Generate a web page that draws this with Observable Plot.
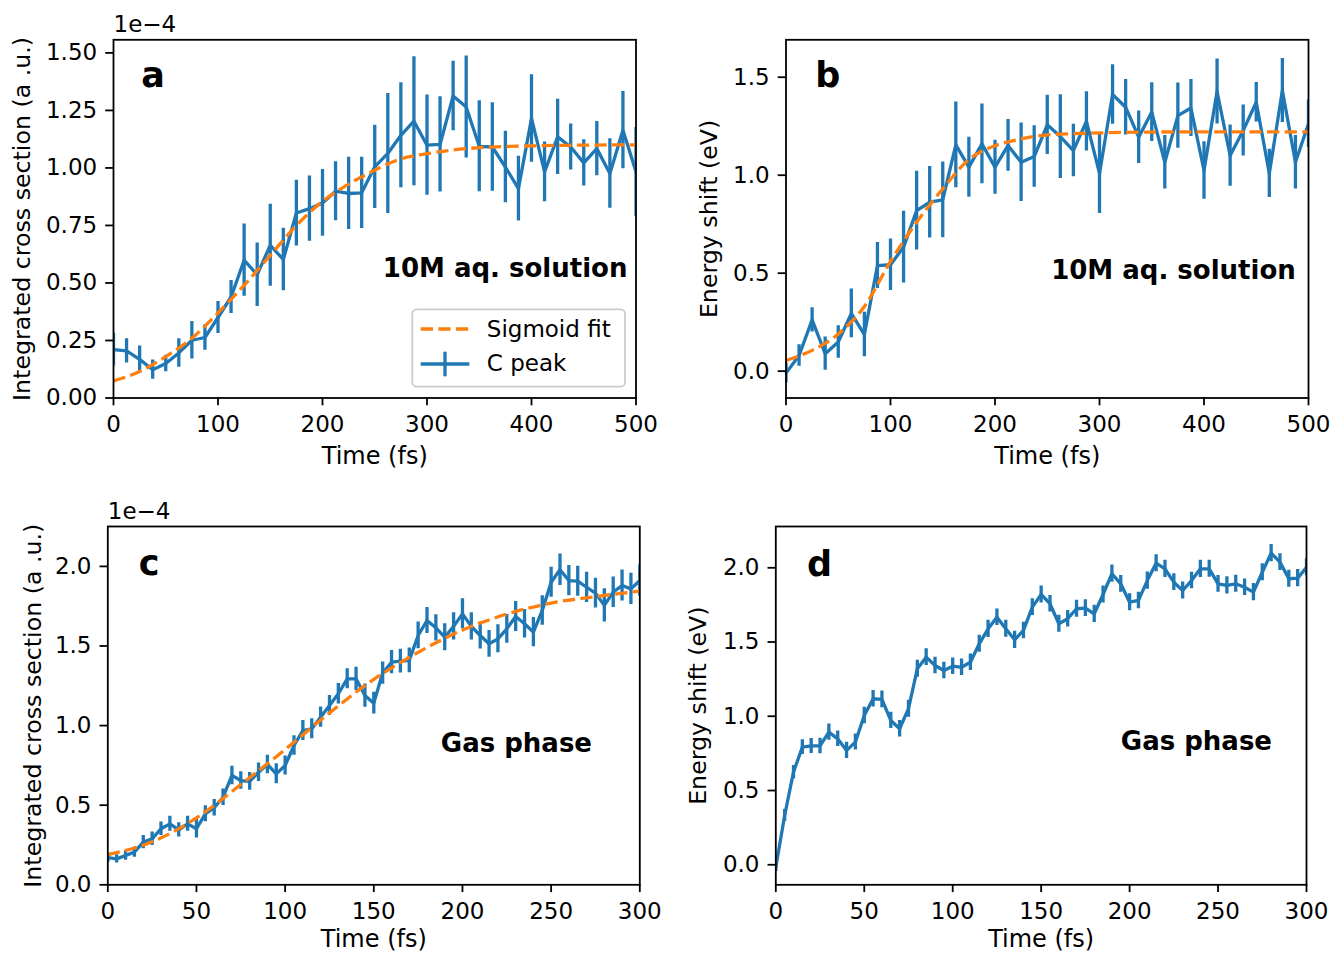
<!DOCTYPE html>
<html><head><meta charset="utf-8">
<script src="https://cdn.jsdelivr.net/npm/d3@7"></script>
<script src="https://cdn.jsdelivr.net/npm/@observablehq/plot@0.6"></script>
<style>
body{margin:0;background:#fff;}
#fig{position:relative;width:1333px;height:955px;background:#fff;overflow:hidden;}
</style></head><body><div id="fig"></div>
<script>
const BLUE = "#1f77b4", ORANGE = "#ff7f0e";

// ---------- Panel a / b : 10M aq. solution (time grid 12.5 fs) ----------
const timesAB = [0, 12.5, 25, 37.5, 50, 62.5, 75, 87.5, 100, 112.5, 125, 137.5, 150, 162.5, 175, 187.5, 200, 212.5, 225, 237.5, 250, 262.5, 275, 287.5, 300, 312.5, 325, 337.5, 350, 362.5, 375, 387.5, 400, 412.5, 425, 437.5, 450, 462.5, 475, 487.5, 500];
const crossA = [0.210, 0.205, 0.168, 0.123, 0.150, 0.196, 0.251, 0.263, 0.350, 0.439, 0.599, 0.536, 0.664, 0.602, 0.804, 0.823, 0.848, 0.899, 0.889, 0.892, 1.005, 1.063, 1.142, 1.203, 1.099, 1.102, 1.313, 1.265, 1.094, 1.091, 1.004, 0.910, 1.215, 0.983, 1.135, 1.091, 1.022, 1.084, 0.976, 1.164, 0.983];
const crossAErr = [0.071, 0.053, 0.058, 0.042, 0.036, 0.062, 0.081, 0.055, 0.070, 0.072, 0.157, 0.138, 0.178, 0.136, 0.143, 0.142, 0.145, 0.128, 0.157, 0.155, 0.181, 0.261, 0.228, 0.280, 0.218, 0.207, 0.151, 0.222, 0.198, 0.192, 0.155, 0.141, 0.190, 0.130, 0.164, 0.100, 0.101, 0.118, 0.151, 0.168, 0.193];
const shiftB = [-0.01, 0.080, 0.262, 0.089, 0.149, 0.295, 0.187, 0.539, 0.543, 0.633, 0.819, 0.862, 0.874, 1.155, 1.041, 1.160, 1.041, 1.152, 1.066, 1.095, 1.257, 1.197, 1.126, 1.275, 1.009, 1.412, 1.347, 1.194, 1.322, 1.066, 1.304, 1.343, 1.024, 1.427, 1.100, 1.228, 1.372, 1.009, 1.432, 1.066, 1.263];
const shiftBErr = [0.051, 0.055, 0.062, 0.085, 0.083, 0.124, 0.113, 0.117, 0.132, 0.183, 0.201, 0.182, 0.193, 0.219, 0.153, 0.204, 0.138, 0.132, 0.200, 0.157, 0.151, 0.214, 0.134, 0.151, 0.204, 0.152, 0.142, 0.134, 0.150, 0.136, 0.167, 0.145, 0.147, 0.166, 0.156, 0.130, 0.101, 0.123, 0.163, 0.136, 0.121];
const fitTimesAB = [0, 25, 50, 75, 100, 125, 150, 175, 200, 225, 250, 275, 300, 325, 350, 375, 400, 425, 450, 475, 500];
const fitA = [0.074, 0.115, 0.180, 0.260, 0.370, 0.490, 0.620, 0.750, 0.855, 0.930, 0.990, 1.040, 1.062, 1.078, 1.088, 1.093, 1.096, 1.098, 1.099, 1.100, 1.100];
const fitB = [0.055, 0.106, 0.190, 0.330, 0.560, 0.760, 0.930, 1.080, 1.150, 1.185, 1.206, 1.212, 1.216, 1.219, 1.220, 1.221, 1.221, 1.221, 1.221, 1.221, 1.221];

// ---------- Panel c / d : Gas phase (time grid 5 fs) ----------
const timesCD = [0, 5, 10, 15, 20, 25, 30, 35, 40, 45, 50, 55, 60, 65, 70, 75, 80, 85, 90, 95, 100, 105, 110, 115, 120, 125, 130, 135, 140, 145, 150, 155, 160, 165, 170, 175, 180, 185, 190, 195, 200, 205, 210, 215, 220, 225, 230, 235, 240, 245, 250, 255, 260, 265, 270, 275, 280, 285, 290, 295, 300];
const crossC = [0.170, 0.163, 0.184, 0.205, 0.268, 0.289, 0.352, 0.383, 0.345, 0.383, 0.352, 0.446, 0.484, 0.550, 0.687, 0.655, 0.650, 0.707, 0.756, 0.697, 0.749, 0.875, 0.969, 0.980, 1.053, 1.126, 1.200, 1.294, 1.294, 1.189, 1.141, 1.330, 1.398, 1.405, 1.410, 1.566, 1.660, 1.614, 1.555, 1.623, 1.702, 1.623, 1.566, 1.514, 1.545, 1.608, 1.685, 1.640, 1.587, 1.723, 1.900, 1.979, 1.911, 1.907, 1.869, 1.832, 1.755, 1.838, 1.880, 1.859, 1.911];
const crossCErr = [0.030, 0.026, 0.030, 0.032, 0.042, 0.042, 0.042, 0.047, 0.045, 0.047, 0.058, 0.050, 0.052, 0.052, 0.058, 0.055, 0.056, 0.058, 0.058, 0.063, 0.060, 0.062, 0.063, 0.063, 0.064, 0.063, 0.065, 0.063, 0.073, 0.073, 0.068, 0.070, 0.073, 0.075, 0.078, 0.084, 0.082, 0.083, 0.085, 0.086, 0.094, 0.086, 0.085, 0.084, 0.088, 0.090, 0.094, 0.090, 0.092, 0.093, 0.094, 0.099, 0.095, 0.094, 0.095, 0.094, 0.105, 0.096, 0.097, 0.098, 0.099];
const shiftD = [-0.016, 0.332, 0.624, 0.792, 0.800, 0.800, 0.893, 0.848, 0.770, 0.826, 1.005, 1.118, 1.114, 0.972, 0.916, 1.051, 1.320, 1.398, 1.342, 1.308, 1.337, 1.330, 1.364, 1.488, 1.589, 1.667, 1.589, 1.515, 1.578, 1.735, 1.820, 1.758, 1.623, 1.657, 1.724, 1.728, 1.690, 1.820, 1.960, 1.892, 1.768, 1.780, 1.914, 2.031, 1.993, 1.903, 1.847, 1.914, 1.993, 1.993, 1.892, 1.881, 1.892, 1.869, 1.836, 1.970, 2.099, 2.038, 1.926, 1.930, 2.004];
const shiftDErr = [0.030, 0.040, 0.045, 0.050, 0.050, 0.052, 0.055, 0.052, 0.055, 0.054, 0.056, 0.056, 0.057, 0.055, 0.056, 0.057, 0.058, 0.056, 0.055, 0.056, 0.055, 0.056, 0.055, 0.057, 0.058, 0.056, 0.057, 0.058, 0.056, 0.057, 0.058, 0.056, 0.058, 0.056, 0.057, 0.056, 0.058, 0.057, 0.058, 0.056, 0.057, 0.056, 0.058, 0.057, 0.058, 0.056, 0.057, 0.056, 0.058, 0.057, 0.056, 0.058, 0.057, 0.056, 0.058, 0.057, 0.058, 0.056, 0.057, 0.058, 0.057];
const fitTimesC = [0, 25, 50, 75, 100, 125, 150, 175, 200, 225, 250, 275, 300];
const fitC = [0.190, 0.270, 0.420, 0.630, 0.850, 1.080, 1.290, 1.460, 1.600, 1.700, 1.770, 1.810, 1.845];

// tick labels / texts
const ticksTime500 = [0, 100, 200, 300, 400, 500];
const ticksTime300 = [0, 50, 100, 150, 200, 250, 300];
const ticksA = [0, 0.25, 0.5, 0.75, 1.0, 1.25, 1.5];
const ticksB = [0, 0.5, 1.0, 1.5];
const ticksCD = [0, 0.5, 1.0, 1.5, 2.0];
const labelCross = "Integrated cross section (a .u.)";
const labelShift = "Energy shift (eV)";
const labelTime = "Time (fs)";
const legendLabels = ["Sigmoid fit", "C peak"];

const FONT = "DejaVu Sans";
const LW = 3.3;

function makePanel(p) {
  const pts = p.times.map((t, i) => ({t, v: p.values[i], e: p.errors[i]}));
  const marks = [
    Plot.ruleX(pts, {x: "t", y1: d => d.v - d.e, y2: d => d.v + d.e, stroke: BLUE, strokeWidth: LW, clip: true}),
    Plot.line(pts, {x: "t", y: "v", stroke: BLUE, strokeWidth: LW, clip: true})
  ];
  if (p.fitTimes) {
    const fit = p.fitTimes.map((t, i) => ({t, v: p.fitValues[i]}));
    marks.push(Plot.line(fit, {x: "t", y: "v", stroke: ORANGE, strokeWidth: LW, strokeDasharray: "12.3,5.3", strokeLinecap: "butt", curve: "monotone-x", clip: true}));
  }
  marks.push(
    Plot.axisX({ticks: p.xTicks, tickSize: 7.8, tickPadding: 10, strokeWidth: 1.8, tickFormat: d => String(d), label: null}),
    Plot.axisX({ticks: [], tickSize: 0, label: labelTime, labelAnchor: "center", labelOffset: p.xLabelOffset, labelArrow: "none", fontSize: 24}),
    Plot.axisY({ticks: p.yTicks, tickSize: 7.8, tickPadding: 8.5, strokeWidth: 1.8, tickFormat: d3.format(p.yFmt), label: null}),
    Plot.axisY({ticks: [], tickSize: 0, label: p.yLabel, labelAnchor: "center", labelOffset: p.yLabelOffset, labelArrow: "none", fontSize: 23.7}),
    Plot.frame({stroke: "black", strokeWidth: 1.8}),
    Plot.text([p.letter], {text: d => d, frameAnchor: "top-left", textAnchor: "start", lineAnchor: "bottom",
      dx: p.letterDx, dy: p.letterDy, fontSize: 35, fontWeight: "bold", fill: "black"}),
    Plot.text([p.note], {text: d => d, frameAnchor: "top-right", textAnchor: "end", lineAnchor: "bottom",
      dx: p.noteDx, dy: p.noteDy, fontSize: 26, fontWeight: "bold", fill: "black"})
  );
  if (p.offsetText) {
    marks.push(Plot.text([p.offsetText], {text: d => d, frameAnchor: "top-left", textAnchor: "start", lineAnchor: "bottom",
      dx: 0, dy: p.offsetDy, fontSize: 23, fill: "black"}));
  }
  const svg = Plot.plot({
    width: p.width, height: p.height,
    marginLeft: p.m[0], marginRight: p.m[1], marginTop: p.m[2], marginBottom: p.m[3],
    x: {domain: p.xDomain},
    y: {domain: p.yDomain},
    style: {fontFamily: FONT, fontSize: "23px", color: "black", background: "transparent", overflow: "visible"},
    marks
  });
  svg.style.position = "absolute";
  svg.style.left = p.left + "px";
  svg.style.top = p.top + "px";
  document.getElementById("fig").appendChild(svg);
  return svg;
}

const svgA = makePanel({
  times: timesAB, values: crossA, errors: crossAErr, fitTimes: fitTimesAB, fitValues: fitA,
  xDomain: [0, 500], xTicks: ticksTime500, yDomain: [0, 1.557], yTicks: ticksA, yFmt: ".2f",
  yLabel: labelCross, yLabelOffset: 100, xLabelOffset: 66,
  width: 666, height: 480, left: 0, top: 0, m: [113, 30.5, 39.3, 82.5],
  letter: "a", letterDx: 27.7, letterDy: 46.7,
  note: "10M aq. solution", noteDx: -8.5, noteDy: 237.4,
  offsetText: "1e\u22124", offsetDy: -7.6
});
makePanel({
  times: timesAB, values: shiftB, errors: shiftBErr, fitTimes: fitTimesAB, fitValues: fitB,
  xDomain: [0, 500], xTicks: ticksTime500, yDomain: [-0.137, 1.691], yTicks: ticksB, yFmt: ".1f",
  yLabel: labelShift, yLabelOffset: 85.5, xLabelOffset: 66,
  width: 663, height: 480, left: 670, top: 0, m: [115.5, 25, 39.3, 82.5],
  letter: "b", letterDx: 29.2, letterDy: 46.7,
  note: "10M aq. solution", noteDx: -12.7, noteDy: 239
});
makePanel({
  times: timesCD, values: crossC, errors: crossCErr, fitTimes: fitTimesC, fitValues: fitC,
  xDomain: [0, 300], xTicks: ticksTime300, yDomain: [0, 2.2506], yTicks: ticksCD, yFmt: ".1f",
  yLabel: labelCross, yLabelOffset: 84, xLabelOffset: 62,
  width: 666, height: 475, left: 0, top: 480, m: [107.3, 26.7, 46, 70.7],
  letter: "c", letterDx: 31, letterDy: 48,
  note: "Gas phase", noteDx: -47.8, noteDy: 225,
  offsetText: "1e\u22124", offsetDy: -8
});
makePanel({
  times: timesCD, values: shiftD, errors: shiftDErr,
  xDomain: [0, 300], xTicks: ticksTime300, yDomain: [-0.135, 2.278], yTicks: ticksCD, yFmt: ".1f",
  yLabel: labelShift, yLabelOffset: 87, xLabelOffset: 62,
  width: 663, height: 475, left: 670, top: 480, m: [105.3, 27, 46, 70.7],
  letter: "d", letterDx: 31.3, letterDy: 49,
  note: "Gas phase", noteDx: -34.5, noteDy: 223.3
});

// Legend of panel a
const lg = d3.select(svgA).append("g").attr("font-family", FONT).attr("font-size", 23).attr("text-anchor", "start");
lg.append("rect").attr("x", 412.3).attr("y", 309.3).attr("width", 212.7).attr("height", 77.4).attr("rx", 4.5)
  .attr("fill", "white").attr("fill-opacity", 0.8).attr("stroke", "#cccccc").attr("stroke-width", 1.8);
lg.append("line").attr("x1", 420.7).attr("x2", 469.3).attr("y1", 329).attr("y2", 329)
  .attr("stroke", ORANGE).attr("stroke-width", LW).attr("stroke-dasharray", "12.3,5.3");
lg.append("text").attr("x", 486.8).attr("y", 337.3).attr("fill", "black").attr("text-anchor", "start").text(legendLabels[0]);
lg.append("line").attr("x1", 420.7).attr("x2", 469.3).attr("y1", 364).attr("y2", 364)
  .attr("stroke", BLUE).attr("stroke-width", LW);
lg.append("line").attr("x1", 445).attr("x2", 445).attr("y1", 351.7).attr("y2", 376.3)
  .attr("stroke", BLUE).attr("stroke-width", LW);
lg.append("text").attr("x", 486.8).attr("y", 371).attr("fill", "black").attr("text-anchor", "start").text(legendLabels[1]);
</script></body></html>
